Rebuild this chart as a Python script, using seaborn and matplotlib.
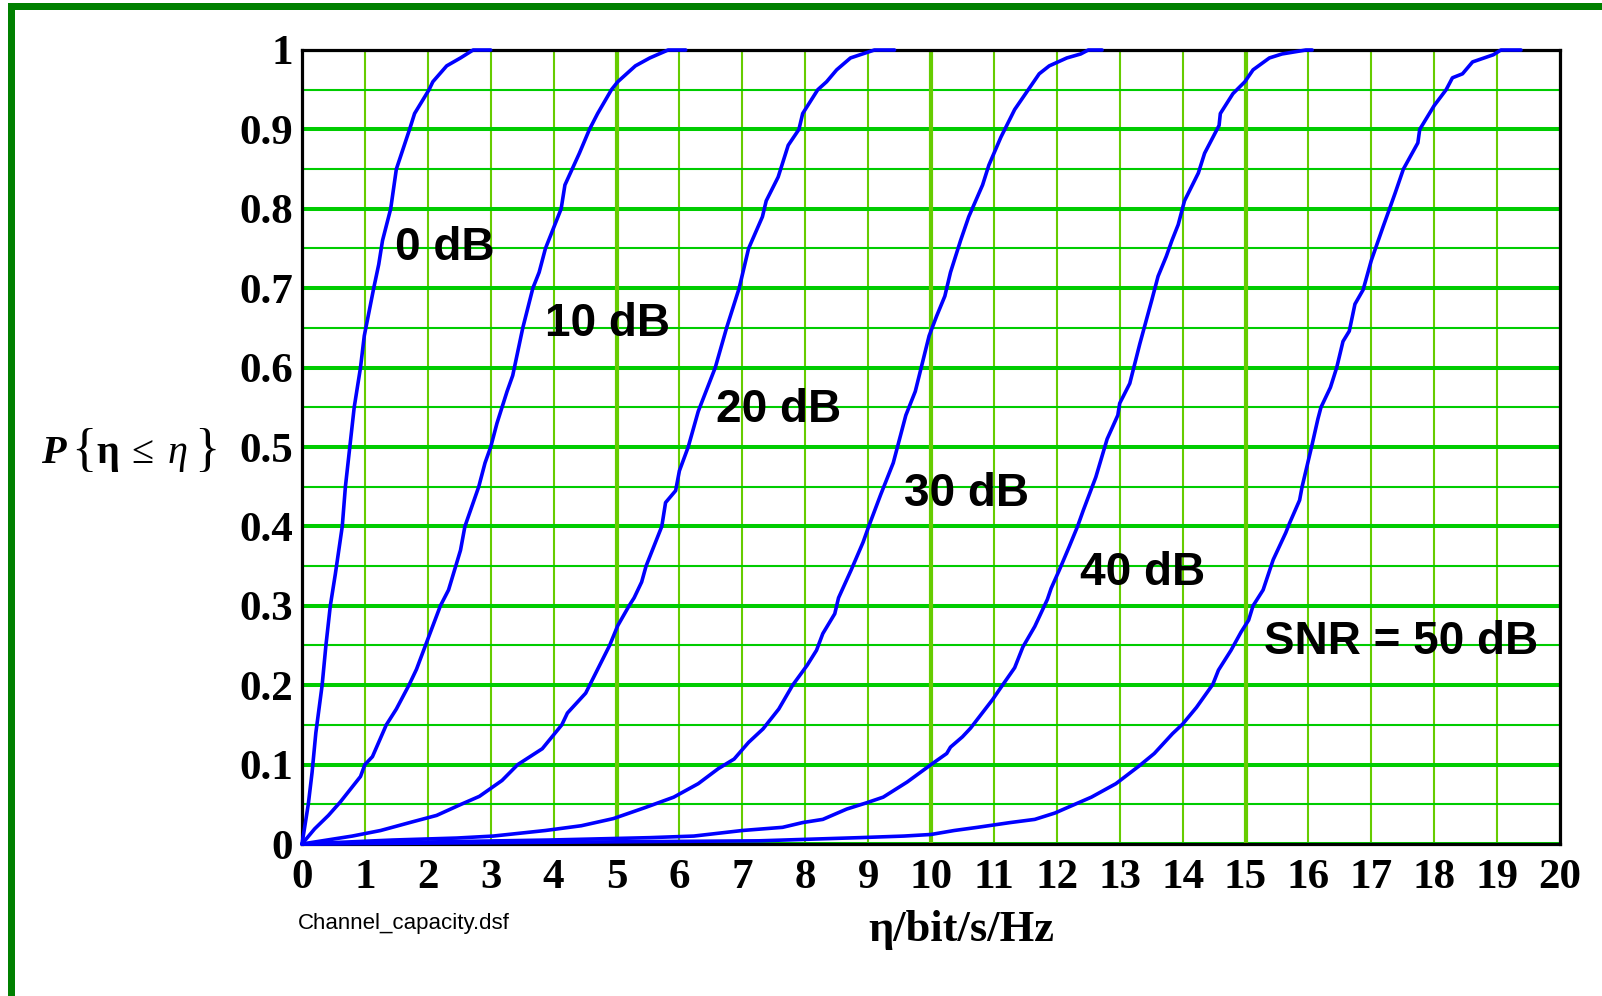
import numpy as np
import pandas as pd
import matplotlib
matplotlib.use('Agg')
import matplotlib.pyplot as plt
import seaborn as sns
from matplotlib.patches import Rectangle

# ---------------- data ----------------
snr_names = ['0 dB', '10 dB', '20 dB', '30 dB', '40 dB', 'SNR = 50 dB']

eta_0 = [0, 0.10, 0.16, 0.22, 0.32, 0.38, 0.45, 0.53, 0.64, 0.69, 0.76, 0.83, 0.93, 0.99,
         1.14, 1.22, 1.28, 1.41, 1.50, 1.71, 1.79, 2.02, 2.08, 2.30, 2.52, 2.72, 3.00]
p_0 = [0, 0.05, 0.09, 0.14, 0.20, 0.25, 0.30, 0.34, 0.40, 0.45, 0.50, 0.55, 0.60, 0.64,
       0.70, 0.73, 0.76, 0.80, 0.85, 0.90, 0.92, 0.95, 0.96, 0.98, 0.99, 1.0, 1.0]

eta_10 = [0, 0.20, 0.42, 0.61, 0.93, 1.00, 1.12, 1.34, 1.50, 1.70, 1.82, 2.01, 2.20, 2.33,
          2.52, 2.59, 2.81, 2.91, 3.00, 3.10, 3.26, 3.35, 3.51, 3.67, 3.77, 3.87, 4.12, 4.18,
          4.41, 4.57, 4.70, 4.92, 5.02, 5.30, 5.53, 5.82, 6.10]
p_10 = [0, 0.019, 0.036, 0.053, 0.085, 0.10, 0.11, 0.15, 0.17, 0.20, 0.22, 0.26, 0.30, 0.32,
        0.37, 0.40, 0.45, 0.48, 0.50, 0.53, 0.57, 0.59, 0.65, 0.70, 0.72, 0.75, 0.80, 0.83,
        0.87, 0.90, 0.92, 0.95, 0.96, 0.98, 0.99, 1.0, 1.0]

eta_20 = [0, 0.80, 1.25, 1.76, 2.14, 2.53, 2.82, 3.18, 3.43, 3.82, 4.13, 4.22, 4.51, 4.70,
          4.89, 5.02, 5.20, 5.28, 5.40, 5.47, 5.72, 5.78, 5.94, 6.00, 6.14, 6.30, 6.57, 6.75,
          6.95, 7.10, 7.32, 7.38, 7.57, 7.73, 7.90, 7.96, 8.20, 8.34, 8.50, 8.72, 9.10, 9.42]
p_20 = [0, 0.01, 0.017, 0.028, 0.036, 0.05, 0.06, 0.08, 0.10, 0.12, 0.15, 0.165, 0.19, 0.22,
        0.25, 0.275, 0.30, 0.31, 0.33, 0.35, 0.40, 0.43, 0.445, 0.47, 0.50, 0.545, 0.60, 0.65,
        0.70, 0.75, 0.79, 0.81, 0.84, 0.88, 0.90, 0.92, 0.95, 0.96, 0.975, 0.99, 1.0, 1.0]

eta_30 = [0, 1.44, 2.46, 3.04, 3.87, 4.44, 4.95, 5.46, 5.91, 6.30, 6.62, 6.87, 7.10, 7.33,
          7.58, 7.80, 8.03, 8.18, 8.28, 8.47, 8.53, 8.73, 8.92, 9.01, 9.20, 9.40, 9.50, 9.60,
          9.75, 9.97, 10.09, 10.22, 10.31, 10.47, 10.60, 10.82, 10.92, 11.11, 11.33, 11.59,
          11.72, 11.88, 12.16, 12.38, 12.50, 12.72]
p_30 = [0, 0.005, 0.0075, 0.01, 0.017, 0.023, 0.032, 0.046, 0.059, 0.076, 0.095, 0.107, 0.128,
        0.145, 0.17, 0.20, 0.225, 0.244, 0.265, 0.29, 0.31, 0.345, 0.38, 0.40, 0.44, 0.48, 0.51,
        0.54, 0.57, 0.64, 0.665, 0.69, 0.72, 0.76, 0.79, 0.83, 0.855, 0.89, 0.925, 0.955, 0.97,
        0.98, 0.99, 0.995, 1.0, 1.0]

eta_40 = [0, 3.93, 5.53, 6.23, 7.00, 7.64, 7.96, 8.28, 8.66, 8.98, 9.24, 9.62, 10.00, 10.25,
          10.31, 10.50, 10.63, 10.98, 11.11, 11.33, 11.46, 11.65, 11.85, 11.91, 12.04, 12.20,
          12.33, 12.42, 12.62, 12.80, 12.97, 13.00, 13.16, 13.32, 13.51, 13.61, 13.74, 13.83,
          13.93, 14.03, 14.25, 14.35, 14.58, 14.60, 14.80, 14.99, 15.12, 15.38, 15.58, 15.96, 16.06]
p_40 = [0, 0.005, 0.008, 0.01, 0.017, 0.021, 0.027, 0.031, 0.044, 0.052, 0.059, 0.078, 0.10,
        0.114, 0.122, 0.135, 0.146, 0.182, 0.197, 0.222, 0.248, 0.274, 0.308, 0.322, 0.345,
        0.375, 0.40, 0.42, 0.462, 0.51, 0.54, 0.555, 0.58, 0.63, 0.685, 0.715, 0.74, 0.76,
        0.78, 0.81, 0.845, 0.87, 0.905, 0.92, 0.945, 0.96, 0.975, 0.99, 0.995, 1.0, 1.0]

eta_50 = [0, 7.26, 8.86, 9.57, 10.00, 10.37, 10.74, 11.26, 11.65, 11.97, 12.23, 12.55, 12.94,
          13.32, 13.55, 13.84, 14.00, 14.22, 14.48, 14.57, 14.77, 14.93, 15.05, 15.12, 15.28,
          15.44, 15.64, 15.70, 15.86, 15.90, 16.05, 16.15, 16.20, 16.35, 16.45, 16.55, 16.65,
          16.74, 16.87, 17.00, 17.19, 17.29, 17.38, 17.51, 17.74, 17.77, 18.00, 18.19, 18.29,
          18.45, 18.61, 18.94, 19.06, 19.38]
p_50 = [0, 0.004, 0.008, 0.01, 0.012, 0.017, 0.021, 0.027, 0.031, 0.039, 0.048, 0.059, 0.076,
        0.099, 0.114, 0.139, 0.151, 0.172, 0.201, 0.219, 0.244, 0.267, 0.282, 0.30, 0.32,
        0.358, 0.392, 0.404, 0.433, 0.45, 0.50, 0.535, 0.55, 0.575, 0.60, 0.633, 0.646,
        0.68, 0.698, 0.735, 0.778, 0.80, 0.82, 0.85, 0.883, 0.90, 0.93, 0.95, 0.965,
        0.97, 0.985, 0.994, 1.0, 1.0]

# label anchor points (data coords: left x, centre y)
label_x = [1.48, 3.87, 6.58, 9.57, 12.37, 15.30]
label_y = [0.75, 0.655, 0.547, 0.441, 0.341, 0.255]

x_ticks = list(range(0, 21))
x_ticklabels = [str(v) for v in x_ticks]
y_ticks = [0, 0.1, 0.2, 0.3, 0.4, 0.5, 0.6, 0.7, 0.8, 0.9, 1.0]
y_ticklabels = ['0', '0.1', '0.2', '0.3', '0.4', '0.5', '0.6', '0.7', '0.8', '0.9', '1']

# ---------------- styling ----------------
sns.set_style('white')
plt.rcParams['font.family'] = ['Liberation Serif', 'DejaVu Serif']
plt.rcParams['text.color'] = 'black'
plt.rcParams['xtick.labelcolor'] = 'black'
plt.rcParams['ytick.labelcolor'] = 'black'

W, H = 1602, 996
fig = plt.figure(figsize=(W / 100, H / 100), dpi=100)
fig.patch.set_facecolor('white')

ax_l, ax_r, ax_t, ax_b = 302, 1560, 50, 844
ax = fig.add_axes([ax_l / W, 1 - ax_b / H, (ax_r - ax_l) / W, (ax_b - ax_t) / H])

etas = [eta_0, eta_10, eta_20, eta_30, eta_40, eta_50]
ps = [p_0, p_10, p_20, p_30, p_40, p_50]
frames = []
for name, e, p in zip(snr_names, etas, ps):
    frames.append(pd.DataFrame({'eta': e, 'p': p, 'snr': name}))
df = pd.concat(frames, ignore_index=True)

sns.lineplot(data=df, x='eta', y='p', hue='snr', units='snr', estimator=None,
             sort=False, palette=['#0000ff'] * len(snr_names), linewidth=2.6,
             legend=False, ax=ax, zorder=4)
for ln in ax.lines:
    ln.set_clip_on(False)
    ln.set_solid_joinstyle('round')

ax.set_xlim(0, 20)
ax.set_ylim(0, 1)
ax.set_xlabel('')
ax.set_ylabel('')

# grid
ax.set_axisbelow(True)
ax.set_xticks(x_ticks)
ax.set_yticks(y_ticks)
ax.set_yticks(np.arange(0.05, 1.0, 0.1), minor=True)
ax.grid(which='major', axis='y', color='#00cc00', linewidth=2.9)
ax.grid(which='minor', axis='y', color='#00cc00', linewidth=1.5)
ax.grid(which='major', axis='x', color='#66cc00', linewidth=1.5)
for xv in (5, 10, 15):
    ax.axvline(xv, color='#66cc00', linewidth=3.0, zorder=0.6)

ax.set_xticklabels(x_ticklabels, fontsize=31, fontweight='bold', color='black',
                   family=['Liberation Serif', 'DejaVu Serif'])
ax.set_yticklabels(y_ticklabels, fontsize=31, fontweight='bold', color='black',
                   family=['Liberation Serif', 'DejaVu Serif'])
ax.tick_params(which='both', length=0)
ax.tick_params(axis='x', pad=11)
ax.tick_params(axis='y', pad=6.5)

for s in ax.spines.values():
    s.set_visible(True)
    s.set_color('black')
    s.set_linewidth(2.3)

# curve labels
for name, lx, ly in zip(snr_names, label_x, label_y):
    ax.text(lx, ly, name, ha='left', va='center', fontsize=33, fontweight='bold',
            family=['Liberation Sans', 'DejaVu Sans'], color='black', zorder=5)

# x label and file note
fig.text(961 / W, 1 - 930 / H, 'η/bit/s/Hz', ha='center', va='center', fontsize=32,
         fontweight='bold', color='black', family=['Liberation Serif', 'DejaVu Serif'])
fig.text(298 / W, 1 - 923 / H, 'Channel_capacity.dsf', ha='left', va='center', fontsize=16,
         color='black', family=['Liberation Sans', 'DejaVu Sans'])

# y label built from pieces: P { η ≤ η }
serif = ['Liberation Serif', 'DejaVu Serif']
base = 1 - 463 / H
fig.text(53 / W, base, 'P', ha='center', va='baseline', fontsize=29, fontweight='bold',
         style='italic', color='black', family=serif)
fig.text(84 / W, 1 - 452 / H, '{', ha='center', va='center', fontsize=38,
         color='black', family=serif)
fig.text(108 / W, base, 'η', ha='center', va='baseline', fontsize=29, fontweight='bold',
         color='black', family=serif)
fig.text(142 / W, base, '≤', ha='center', va='baseline', fontsize=29,
         color='black', family=serif)
fig.text(178 / W, base, 'η', ha='center', va='baseline', fontsize=29, style='italic',
         color='black', family=serif)
fig.text(207 / W, 1 - 452 / H, '}', ha='center', va='center', fontsize=38,
         color='black', family=serif)

# green frame around the figure (top and left visible, bottom barely)
fig.add_artist(Rectangle((10.5 / W, 1 - 998.5 / H), (1640 - 10.5) / W, (998.5 - 6.5) / H,
                         transform=fig.transFigure, fill=False, edgecolor='#008000',
                         linewidth=5.04, clip_on=False, zorder=10))

fig.savefig('out.png', dpi=100, facecolor='white')
